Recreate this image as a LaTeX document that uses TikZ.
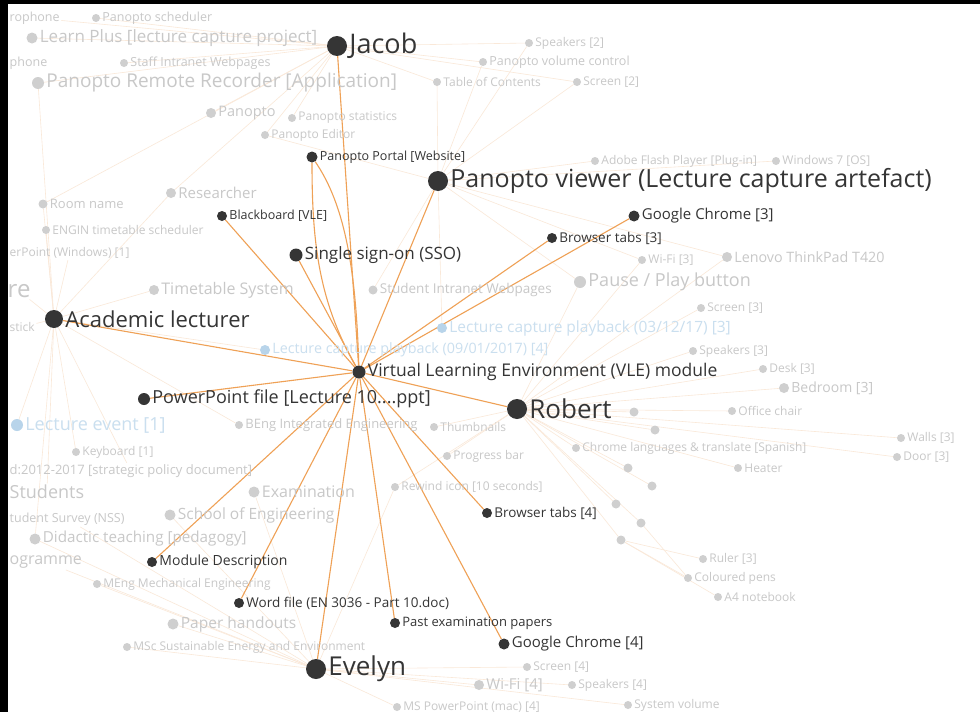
\documentclass[tikz,border=0pt]{standalone}
\usepackage{fontspec}
\setmainfont{Open Sans}
\usepackage{xcolor}
\usepackage{tikz}
\usetikzlibrary{positioning}

\definecolor{ink}{HTML}{353535}
\definecolor{linkorange}{HTML}{EFA156}
\definecolor{paleorange}{HTML}{FAE8D8}
\definecolor{greytext}{HTML}{C8C8C8}
\definecolor{greydot}{HTML}{CFCFCF}
\definecolor{bluetext}{HTML}{CADFEF}
\definecolor{bluedot}{HTML}{B8D4EA}

\pgfdeclarelayer{bg}
\pgfdeclarelayer{links}
\pgfsetlayers{bg,links,main}

\tikzset{
  spot/.style={circle, fill=ink, inner sep=0pt, minimum size=#1},
  greyspot/.style={circle, fill=greydot, inner sep=0pt, minimum size=#1},
  bluespot/.style={circle, fill=bluedot, inner sep=0pt, minimum size=#1},
  lab/.style={anchor=west, inner sep=1.5pt, text=ink, font=\fontsize{#1}{#1}\selectfont},
  greylab/.style={anchor=west, inner sep=1.5pt, text=greytext, font=\fontsize{#1}{#1}\selectfont},
  bluelab/.style={anchor=west, inner sep=1.5pt, text=bluetext, font=\fontsize{#1}{#1}\selectfont},
  uses/.style={draw=linkorange, line width=1.1pt},
  faint/.style={draw=paleorange, line width=0.6pt},
}

\begin{document}
\begin{tikzpicture}[x=1pt,y=-1pt]
  \useasboundingbox (0,0) rectangle (980,712);
  \begin{pgfonlayer}{bg}
    \fill[white] (0,0) rectangle (980,712);
  \end{pgfonlayer}

  % #1 is name
  % #2 is position
  % #3 is dot style, #4 is label style
  \newcommand{\placeitem}[5]{
    \node[#3] (#1) at (#2) {};
    \node[#4, right=0.5pt of #1] (#1-t) {#5};
  }

  % faded items
  \placeitem{sched}{96,18}{greyspot=8pt}{greylab=12.5}{Panopto scheduler}
  \placeitem{learn}{32,38}{greyspot=11pt}{greylab=17}{Learn Plus [lecture capture project]}
  \placeitem{staff}{124,63}{greyspot=8pt}{greylab=12.5}{Staff Intranet Webpages}
  \placeitem{remote}{38,83}{greyspot=12pt}{greylab=19}{Panopto Remote Recorder [Application]}
  \placeitem{spk2}{529,43}{greyspot=8pt}{greylab=12}{Speakers [2]}
  \placeitem{pvol}{483,62}{greyspot=8pt}{greylab=12.5}{Panopto volume control}
  \placeitem{toc}{437,82}{greyspot=8pt}{greylab=12}{Table of Contents}
  \placeitem{scr2}{577,82}{greyspot=8pt}{greylab=12}{Screen [2]}
  \placeitem{panopto}{211,113}{greyspot=10pt}{greylab=14.5}{Panopto}
  \placeitem{pstat}{292,118}{greyspot=8pt}{greylab=12}{Panopto statistics}
  \placeitem{pedit}{265,135}{greyspot=8pt}{greylab=12}{Panopto Editor}
  \placeitem{adobe}{595,161}{greyspot=8pt}{greylab=12}{Adobe Flash Player [Plug-in]}
  \placeitem{win7}{776,161}{greyspot=8pt}{greylab=12}{Windows 7 [OS]}
  \placeitem{research}{171,193}{greyspot=10pt}{greylab=15}{Researcher}
  \placeitem{room}{43,204}{greyspot=9pt}{greylab=13}{Room name}
  \placeitem{engin}{46,230}{greyspot=8pt}{greylab=12}{ENGIN timetable scheduler}
  \placeitem{wifi3}{642,260}{greyspot=8pt}{greylab=12}{Wi-Fi [3]}
  \placeitem{lenovo}{727,257}{greyspot=10pt}{greylab=14.3}{Lenovo ThinkPad T420}
  \placeitem{timetable}{154,290}{greyspot=10pt}{greylab=16}{Timetable System}
  \placeitem{stuintra}{373,290}{greyspot=9pt}{greylab=13.5}{Student Intranet Webpages}
  \placeitem{pause}{580,282}{greyspot=12pt}{greylab=18}{Pause / Play button}
  \placeitem{scr3}{701,308}{greyspot=8pt}{greylab=12}{Screen [3]}
  \placeitem{lcp3}{442,328}{bluespot=10pt}{bluelab=15.5}{Lecture capture playback (03/12/17) [3]}
  \placeitem{lcp4}{265,350}{bluespot=10pt}{bluelab=14.3}{Lecture capture playback (09/01/2017) [4]}
  \placeitem{spk3}{693,351}{greyspot=8pt}{greylab=12}{Speakers [3]}
  \placeitem{desk}{763,369}{greyspot=8pt}{greylab=12}{Desk [3]}
  \placeitem{bedroom}{784,388}{greyspot=10pt}{greylab=14}{Bedroom [3]}
  \placeitem{office}{732,411}{greyspot=8pt}{greylab=12}{Office chair}
  \placeitem{lecev}{17,425}{bluespot=12pt}{bluelab=18}{Lecture event [1]}
  \placeitem{beng}{239,425}{greyspot=8pt}{greylab=13}{BEng Integrated Engineering}
  \placeitem{thumbs}{434,427}{greyspot=8pt}{greylab=12}{Thumbnails}
  \placeitem{keyboard}{76,452}{greyspot=8pt}{greylab=12}{Keyboard [1]}
  \placeitem{chromelang}{576,448}{greyspot=8pt}{greylab=12}{Chrome languages \& translate [Spanish]}
  \placeitem{progress}{447,456}{greyspot=8pt}{greylab=12}{Progress bar}
  \placeitem{walls}{901,438}{greyspot=8pt}{greylab=12}{Walls [3]}
  \placeitem{door}{897,457}{greyspot=8pt}{greylab=12}{Door [3]}
  \placeitem{heater}{738,468}{greyspot=8pt}{greylab=12}{Heater}
  \placeitem{exam}{254,492}{greyspot=11pt}{greylab=16}{Examination}
  \placeitem{rewind}{395,487}{greyspot=8pt}{greylab=12}{Rewind icon [10 seconds]}
  \placeitem{school}{170,515}{greyspot=11pt}{greylab=15.5}{School of Engineering}
  \placeitem{didactic}{35,539}{greyspot=11pt}{greylab=15.2}{Didactic teaching [pedagogy]}
  \placeitem{meng}{97,584}{greyspot=8pt}{greylab=12}{MEng Mechanical Engineering}
  \placeitem{ruler}{703,559}{greyspot=8pt}{greylab=12}{Ruler [3]}
  \placeitem{pens}{688,578}{greyspot=8pt}{greylab=12}{Coloured pens}
  \placeitem{notebook}{718,597}{greyspot=8pt}{greylab=12}{A4 notebook}
  \placeitem{paper}{173,624}{greyspot=11pt}{greylab=15.5}{Paper handouts}
  \placeitem{msc}{127,647}{greyspot=8pt}{greylab=12}{MSc Sustainable Energy and Environment}
  \placeitem{scr4}{527,667}{greyspot=8pt}{greylab=12}{Screen [4]}
  \placeitem{wifi4}{479,685}{greyspot=10pt}{greylab=15}{Wi-Fi [4]}
  \placeitem{spk4}{572,685}{greyspot=8pt}{greylab=12}{Speakers [4]}
  \placeitem{mspp}{397,707}{greyspot=8pt}{greylab=12}{MS PowerPoint (mac) [4]}
  \placeitem{sysvol}{628,705}{greyspot=8pt}{greylab=12}{System volume}

  \foreach \n/\x/\y in {u1/634/412, u2/655/430, u3/628/468, u4/652/486, u5/616/504, u6/641/523, u7/621/540}
    \node[greyspot=9pt] (\n) at (\x,\y) {};

  % texts cut by the left edge
  \node[greylab=12.5] (mic1) at (8,18) {rophone};
  \node[greylab=12.5] (mic2) at (8,63) {phone};
  \node[greylab=12] (erpoint) at (8,253) {erPoint (Windows) [1]};
  \node[greylab=24] (lecre) at (6,291) {re};
  \node[greylab=12] (stick) at (8,327) {stick};
  \node[greylab=13] (strat) at (8,471) {d:2012-2017 [strategic policy document]};
  \node[greylab=18] (students) at (8,492) {Students};
  \node[greylab=12.5] (nss) at (8,519) {tudent Survey (NSS)};
  \node[greylab=16] (programme) at (8,562) {ogramme};

  % main items
  \placeitem{jacob}{337,46}{spot=20pt}{lab=27}{Jacob}
  \placeitem{viewer}{438,181}{spot=20pt}{lab=25}{Panopto viewer (Lecture capture artefact)}
  \placeitem{portal}{312,157}{spot=11pt}{lab=12.5}{Panopto Portal [Website]}
  \placeitem{blackboard}{222,216}{spot=10pt}{lab=12.5}{Blackboard [VLE]}
  \placeitem{chrome3}{634,216}{spot=11pt}{lab=15}{Google Chrome [3]}
  \placeitem{tabs3}{552,238}{spot=10pt}{lab=13.5}{Browser tabs [3]}
  \placeitem{sso}{296,255}{spot=13pt}{lab=17}{Single sign-on (SSO)}
  \placeitem{lecturer}{54,319}{spot=18pt}{lab=22}{Academic lecturer}
  \placeitem{vle}{359,372}{spot=13pt}{lab=17.5}{Virtual Learning Environment (VLE) module}
  \placeitem{ppt}{144,399}{spot=12pt}{lab=18}{PowerPoint file [Lecture 10....ppt]}
  \placeitem{robert}{517,409}{spot=20pt}{lab=26}{Robert}
  \placeitem{tabs4}{487,513}{spot=10pt}{lab=13.5}{Browser tabs [4]}
  \placeitem{module}{152,562}{spot=10pt}{lab=14}{Module Description}
  \placeitem{word}{239,603}{spot=10pt}{lab=13.5}{Word file (EN 3036 - Part 10.doc)}
  \placeitem{past}{395,623}{spot=10pt}{lab=13}{Past examination papers}
  \placeitem{chrome4}{504,644}{spot=11pt}{lab=15}{Google Chrome [4]}
  \placeitem{evelyn}{316,669}{spot=20pt}{lab=26}{Evelyn}

  \begin{pgfonlayer}{links}
    \foreach \a/\b in {jacob/learn, jacob/remote, jacob/sched, jacob/staff, jacob/panopto, jacob/pstat,
      jacob/pedit, jacob/toc, jacob/pvol, jacob/spk2, jacob/scr2, jacob/research, jacob/mic1, jacob/room,
      viewer/adobe, viewer/win7, viewer/pvol, viewer/spk2, viewer/scr2, viewer/toc, viewer/stuintra,
      viewer/pause, viewer/lcp3, viewer/wifi3, viewer/lenovo, viewer/pedit,
      lecturer/lecre, lecturer/timetable, lecturer/erpoint, lecturer/stick, lecturer/lecev, lecturer/keyboard,
      lecturer/strat, lecturer/students, lecturer/didactic, lecturer/room, lecturer/engin, lecturer/research,
      lecturer/lcp4, lecturer/beng, lecturer/remote,
      robert/desk, robert/bedroom, robert/office, robert/spk3, robert/scr3, robert/chromelang, robert/heater,
      robert/walls, robert/door, robert/thumbs, robert/progress, robert/rewind, robert/u1, robert/u2,
      robert/u3, robert/u4, robert/u5, robert/u6, robert/u7, robert/lenovo, robert/wifi3, robert/pause,
      u7/ruler, u7/pens, u7/notebook, u6/pens,
      evelyn/scr4, evelyn/wifi4, evelyn/spk4, evelyn/mspp, evelyn/sysvol, evelyn/msc, evelyn/paper,
      evelyn/meng, evelyn/exam, evelyn/school, evelyn/didactic, evelyn/programme, evelyn/nss, evelyn/rewind}
      \draw[faint] (\a) -- (\b);

    \foreach \a in {jacob, sso, viewer, tabs3, chrome3, lecturer, ppt, robert, tabs4, chrome4, past,
      evelyn, word, module, blackboard}
      \draw[uses] (\a) -- (vle);
    \draw[uses] (portal) .. controls (312,240) and (318,300) .. (vle);
    \draw[uses] (portal) .. controls (345,205) and (356,270) .. (vle);
  \end{pgfonlayer}

  % screenshot border
  \fill[black] (0,0) rectangle (8,712);
  \fill[black] (0,0) rectangle (980,4);
\end{tikzpicture}
\end{document}
